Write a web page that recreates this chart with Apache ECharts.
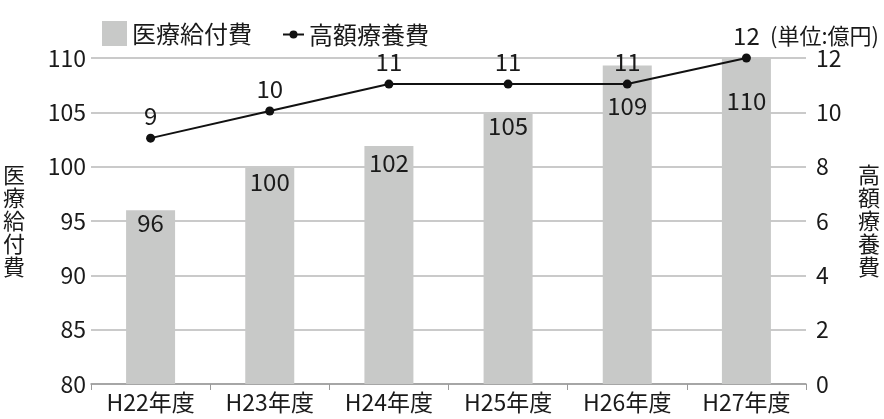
<!DOCTYPE html>
<html><head><meta charset="utf-8">
<script src="https://cdn.jsdelivr.net/npm/echarts@6/dist/echarts.min.js"></script>
<style>html,body{margin:0;padding:0;background:#fff;}#c{width:884px;height:419px;}</style>
</head><body><div id="c"></div>
<script>
const categories = ['H22年度','H23年度','H24年度','H25年度','H26年度','H27年度'];
const medicalBenefit = [96.0, 99.9, 101.9, 104.9, 109.3, 110.0];
const highCost = [9.05, 10.05, 11.04, 11.04, 11.04, 12.0];
const leftTicks = {min: 80, max: 110, interval: 5};
const rightTicks = {min: 0, max: 12, interval: 2};
const barLabelDist = [1, 2, 5, 0, 28, 31];

const FONT = '"Noto Sans CJK JP","Noto Sans",sans-serif';
const TXT = '#1a1a1a';
const chart = echarts.init(document.getElementById('c'));
chart.setOption({
  animation: false,
  textStyle: {fontFamily: FONT, color: TXT},
  title: {text: '(単位:億円)', right: 0, top: 20, textStyle: {fontFamily: FONT, fontSize: 22, fontWeight: 'normal', color: TXT}},
  legend: [
    {data: [{name: '医療給付費', icon: 'rect'}], left: 97, top: 16, itemWidth: 25, itemHeight: 25, itemGap: 6,
     textStyle: {fontFamily: FONT, fontSize: 24, color: TXT}},
    {data: ['高額療養費'], left: 277, top: 16, height: 30, itemWidth: 21, itemHeight: 10, itemGap: 8,
     textStyle: {fontFamily: FONT, fontSize: 24, color: TXT, lineHeight: 27}}
  ],
  grid: {left: 87, right: 78, top: 58, bottom: 35},
  xAxis: {
    type: 'category', data: categories,
    axisLine: {lineStyle: {color: '#9a9a9a', width: 1.5}},
    axisTick: {show: true, length: 6, lineStyle: {color: '#9a9a9a'}},
    axisLabel: {interval: 0, fontSize: 23, color: TXT, margin: 7, fontFamily: FONT, hideOverlap: false}
  },
  yAxis: [
    {type: 'value', min: leftTicks.min, max: leftTicks.max, interval: leftTicks.interval,
     name: '医\n療\n給\n付\n費', nameLocation: 'middle', nameRotate: 0, nameGap: 66,
     nameTextStyle: {fontSize: 22, lineHeight: 23, color: TXT, fontFamily: FONT},
     axisLine: {show: false}, axisTick: {show: false},
     axisLabel: {fontSize: 23, color: TXT, margin: 5, fontFamily: FONT},
     splitLine: {lineStyle: {color: '#b8b8b8', width: 1.5}}},
    {type: 'value', min: rightTicks.min, max: rightTicks.max, interval: rightTicks.interval,
     name: '高\n額\n療\n養\n費', nameLocation: 'middle', nameRotate: 0, nameGap: 52,
     nameTextStyle: {fontSize: 22, lineHeight: 23, color: TXT, fontFamily: FONT},
     axisLine: {show: false}, axisTick: {show: false},
     axisLabel: {fontSize: 23, color: TXT, margin: 10, fontFamily: FONT},
     splitLine: {show: false}}
  ],
  series: [
    {name: '医療給付費', type: 'bar', yAxisIndex: 0, barWidth: 49,
     itemStyle: {color: '#c8c9c8'},
     data: medicalBenefit.map((v, i) => ({value: v,
       label: {show: true, position: 'insideTop', distance: barLabelDist[i],
         formatter: p => Math.round(p.value), fontSize: 24, color: TXT, fontFamily: FONT}}))},
    {name: '高額療養費', type: 'line', yAxisIndex: 1, data: highCost,
     symbol: 'circle', symbolSize: 9,
     lineStyle: {color: '#111', width: 2}, itemStyle: {color: '#111'},
     label: {show: true, position: 'top', distance: 6, formatter: p => Math.round(p.value),
       fontSize: 24, color: TXT, fontFamily: FONT}}
  ]
});
</script></body></html>
